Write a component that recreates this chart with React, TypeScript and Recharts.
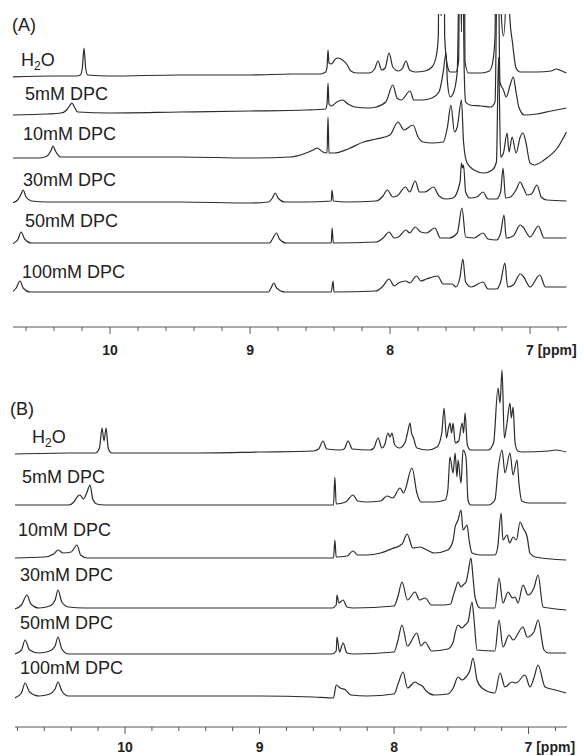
import { LineChart, Line, XAxis, YAxis } from 'recharts'

type Pt = [number, number]

// ppm ticks, every 0.2 ppm; whole numbers get a label
const TICKS_A = [10.6, 10.4, 10.2, 10, 9.8, 9.6, 9.4, 9.2, 9, 8.8, 8.6, 8.4, 8.2, 8, 7.8, 7.6, 7.4, 7.2, 7, 6.8]
const TICKS_B = [10.8, 10.6, 10.4, 10.2, 10, 9.8, 9.6, 9.4, 9.2, 9, 8.8, 8.6, 8.4, 8.2, 8, 7.8, 7.6, 7.4, 7.2, 7, 6.8]

const SAMPLES = ['H2O', '5mM DPC', '10mM DPC', '30mM DPC', '50mM DPC', '100mM DPC']

// panel A spectra: [ppm, intensity above own baseline]
const A_H2O: Pt[] = [[10.70,-1],[10.40,0],[10.24,0],[10.212,1],[10.198,8],[10.186,28],[10.174,8],[10.16,1],[10.0,0],[9.5,1],[9.0,1],[8.7,2],[8.5,2],[8.46,4],[8.45,9],[8.443,26],[8.436,13],[8.42,12],[8.39,17],[8.37,18],[8.34,16],[8.31,12],[8.28,5],[8.24,3],[8.15,3],[8.11,7],[8.086,15],[8.06,6],[8.035,8],[8.007,23],[7.98,9],[7.94,5],[7.91,8],[7.886,15],[7.86,6],[7.82,4],[7.75,5],[7.70,9],[7.67,20],[7.655,40],[7.645,400],[7.635,60],[7.625,400],[7.61,40],[7.59,10],[7.57,4],[7.53,4],[7.51,15],[7.495,400],[7.487,110],[7.478,400],[7.465,15],[7.44,3],[7.35,3],[7.29,5],[7.265,15],[7.25,40],[7.236,400],[7.228,120],[7.221,400],[7.205,60],[7.19,40],[7.172,80],[7.157,400],[7.145,60],[7.125,33],[7.10,8],[7.07,4],[6.95,4],[6.85,5],[6.81,7],[6.79,6],[6.74,3]]
const A_5MM: Pt[] = [[10.70,-3],[10.45,-2],[10.35,-1],[10.31,2],[10.29,6],[10.271,9],[10.255,5],[10.23,0],[10.0,-1],[9.5,0],[9.0,1],[8.6,2],[8.46,3],[8.45,8],[8.443,29],[8.436,8],[8.42,6],[8.38,10],[8.34,12],[8.30,8],[8.25,5],[8.15,4],[8.10,5],[8.03,10],[7.98,27],[7.95,14],[7.92,12],[7.857,21],[7.83,12],[7.77,12],[7.70,14],[7.65,20],[7.62,40],[7.60,59],[7.59,30],[7.57,15],[7.55,18],[7.52,40],[7.50,200],[7.49,80],[7.483,200],[7.47,40],[7.46,10],[7.43,7],[7.35,6],[7.28,5],[7.25,10],[7.23,200],[7.215,30],[7.19,22],[7.17,15],[7.14,28],[7.12,35],[7.10,20],[7.08,5],[7.04,-3],[6.95,-2],[6.85,1],[6.74,4]]
const A_10MM: Pt[] = [[10.70,-1],[10.50,-1],[10.45,1],[10.42,7],[10.407,11],[10.39,6],[10.35,0],[10.0,0],[9.5,0],[9.0,-1],[8.71,0],[8.6,4],[8.55,7],[8.521,9],[8.48,5],[8.45,4],[8.443,40],[8.436,4],[8.40,4],[8.30,8],[8.19,15],[8.10,18],[8.0,22],[7.943,35],[7.90,27],[7.836,32],[7.80,20],[7.764,15],[7.70,14],[7.62,15],[7.59,30],[7.565,52],[7.54,25],[7.52,30],[7.49,57],[7.475,15],[7.45,-6],[7.40,-13],[7.33,-16],[7.27,-13],[7.24,-5],[7.225,100],[7.21,0],[7.19,4],[7.164,24],[7.15,5],[7.128,20],[7.10,4],[7.07,20],[7.05,24],[7.03,15],[7.0,-6],[6.97,-8],[6.90,-3],[6.80,10],[6.74,25]]
const A_30MM: Pt[] = [[10.70,-1],[10.66,2],[10.635,8],[10.62,12],[10.60,5],[10.56,1],[10.45,0],[10.0,0],[9.5,0],[9.0,-1],[8.87,0],[8.84,4],[8.82,9],[8.80,4],[8.75,0],[8.6,0],[8.42,1],[8.414,12],[8.405,1],[8.3,0],[8.1,1],[8.05,6],[8.02,12],[7.98,5],[7.95,6],[7.89,15],[7.86,10],[7.82,21],[7.79,10],[7.75,10],[7.69,15],[7.65,6],[7.60,3],[7.55,4],[7.50,20],[7.49,39],[7.482,34],[7.475,37],[7.46,10],[7.43,4],[7.38,5],[7.336,10],[7.30,3],[7.24,3],[7.21,10],[7.193,34],[7.175,4],[7.14,5],[7.10,12],[7.071,20],[7.05,15],[7.02,7],[6.99,8],[6.95,17],[6.92,5],[6.88,2],[6.74,1]]
const A_50MM: Pt[] = [[10.70,-1],[10.66,3],[10.635,11],[10.61,4],[10.56,0],[10.0,0],[9.5,0],[9.0,0],[8.86,0],[8.84,4],[8.81,10],[8.79,4],[8.74,0],[8.42,0],[8.414,15],[8.405,0],[8.1,1],[8.05,5],[8.007,11],[7.97,5],[7.94,6],[7.886,13],[7.86,10],[7.82,16],[7.78,11],[7.74,10],[7.68,15],[7.64,5],[7.58,5],[7.52,10],[7.486,35],[7.46,6],[7.40,5],[7.336,10],[7.30,4],[7.24,3],[7.21,10],[7.186,28],[7.17,5],[7.12,7],[7.07,18],[7.05,16],[7.0,6],[6.94,17],[6.90,5],[6.85,5],[6.74,5]]
const A_100MM: Pt[] = [[10.70,0],[10.67,4],[10.643,11],[10.62,4],[10.57,0],[10.0,0],[9.5,0],[9.0,0],[8.87,0],[8.85,4],[8.83,9],[8.81,4],[8.75,0],[8.42,0],[8.407,11],[8.40,0],[8.1,1],[8.05,6],[8.007,13],[7.97,6],[7.94,9],[7.886,11],[7.86,9],[7.81,16],[7.78,11],[7.74,13],[7.66,16],[7.62,8],[7.557,8],[7.53,5],[7.50,15],[7.48,33],[7.46,10],[7.42,5],[7.336,10],[7.30,3],[7.24,3],[7.21,10],[7.18,29],[7.16,5],[7.12,7],[7.07,18],[7.05,16],[7.0,5],[6.93,17],[6.89,5],[6.85,5],[6.74,5]]

// panel B spectra
const B_H2O: Pt[] = [[10.82,-1],[10.4,0],[10.22,0],[10.19,5],[10.171,25],[10.156,12],[10.141,25],[10.125,5],[10.10,0],[9.5,0],[9.0,1],[8.6,2],[8.56,4],[8.528,12],[8.50,4],[8.40,3],[8.37,4],[8.342,12],[8.31,4],[8.18,3],[8.15,5],[8.119,15],[8.09,5],[8.07,8],[8.045,20],[8.03,16],[8.015,20],[7.995,8],[7.96,5],[7.92,10],[7.90,20],[7.881,30],[7.87,20],[7.855,15],[7.83,5],[7.75,3],[7.68,6],[7.645,20],[7.628,45],[7.61,15],[7.595,25],[7.584,30],[7.572,20],[7.561,30],[7.545,10],[7.52,12],[7.494,30],[7.483,20],[7.472,40],[7.455,8],[7.43,3],[7.30,3],[7.26,10],[7.227,65],[7.212,50],[7.197,83],[7.18,15],[7.16,30],[7.138,50],[7.128,35],[7.115,46],[7.10,10],[7.08,2],[7.05,1],[6.85,2],[6.80,3],[6.72,1]]
const B_5MM: Pt[] = [[10.82,0],[10.42,0],[10.38,3],[10.35,9],[10.335,10],[10.31,6],[10.285,12],[10.26,20],[10.24,6],[10.21,1],[10.15,0],[9.5,0],[9.0,0],[8.6,0],[8.45,0],[8.44,28],[8.43,1],[8.36,3],[8.305,10],[8.27,4],[8.2,3],[8.10,4],[8.052,9],[8.01,7],[7.955,17],[7.93,12],[7.866,37],[7.83,12],[7.80,3],[7.70,3],[7.62,5],[7.60,15],[7.584,48],[7.561,32],[7.546,52],[7.532,28],[7.524,45],[7.502,22],[7.487,55],[7.465,48],[7.45,5],[7.43,0],[7.30,0],[7.25,5],[7.227,35],[7.197,55],[7.175,32],[7.138,52],[7.115,30],[7.086,45],[7.07,20],[7.05,4],[7.0,2],[6.72,2]]
const B_10MM: Pt[] = [[10.82,0],[10.6,1],[10.53,4],[10.498,8],[10.46,5],[10.40,6],[10.357,13],[10.33,3],[10.28,0],[9.5,0],[9.0,0],[8.6,0],[8.45,0],[8.44,18],[8.43,1],[8.35,2],[8.305,7],[8.27,3],[8.20,3],[8.10,5],[8.02,9],[7.94,14],[7.903,24],[7.86,10],[7.807,11],[7.755,8],[7.70,5],[7.60,8],[7.56,18],[7.546,31],[7.524,38],[7.502,48],[7.487,28],[7.457,33],[7.442,18],[7.42,5],[7.36,3],[7.25,3],[7.23,10],[7.204,45],[7.19,18],[7.16,23],[7.14,15],[7.115,21],[7.09,18],[7.063,36],[7.041,30],[7.01,21],[6.99,5],[6.95,1],[6.72,-2]]
const B_30MM: Pt[] = [[10.82,-1],[10.77,3],[10.729,13],[10.70,4],[10.64,0],[10.56,2],[10.52,8],[10.498,18],[10.47,6],[10.42,1],[10.3,0],[9.5,0],[9.0,0],[8.6,0],[8.46,0],[8.43,3],[8.424,13],[8.41,5],[8.379,8],[8.35,1],[8.3,0],[8.0,2],[7.97,12],[7.941,26],[7.90,8],[7.844,16],[7.81,8],[7.77,10],[7.72,3],[7.63,3],[7.58,4],[7.56,12],[7.546,18],[7.524,26],[7.502,21],[7.487,23],[7.465,26],[7.45,35],[7.428,50],[7.413,31],[7.398,11],[7.36,0],[7.25,0],[7.219,30],[7.19,5],[7.152,16],[7.12,10],[7.10,11],[7.078,5],[7.041,23],[7.004,13],[6.96,20],[6.929,33],[6.892,1],[6.85,0],[6.72,-2]]
const B_50MM: Pt[] = [[10.82,0],[10.77,4],[10.743,14],[10.71,4],[10.64,1],[10.56,3],[10.52,8],[10.498,17],[10.47,5],[10.42,0],[9.5,0],[9.0,0],[8.6,0],[8.46,0],[8.43,3],[8.424,17],[8.405,2],[8.379,11],[8.35,1],[8.3,0],[8.0,2],[7.97,14],[7.941,29],[7.90,8],[7.83,21],[7.80,8],[7.77,12],[7.72,3],[7.6,5],[7.56,12],[7.546,21],[7.524,29],[7.494,26],[7.472,29],[7.45,32],[7.42,52],[7.405,34],[7.383,4],[7.25,3],[7.219,34],[7.19,7],[7.145,19],[7.115,14],[7.041,27],[7.01,17],[6.96,22],[6.929,34],[6.885,4],[6.85,1],[6.72,1]]
const B_100MM: Pt[] = [[10.82,-2],[10.77,3],[10.743,13],[10.71,4],[10.64,0],[10.56,2],[10.52,7],[10.498,14],[10.47,5],[10.42,0],[9.5,0],[9.0,0],[8.6,-1],[8.45,-2],[8.43,11],[8.40,8],[8.36,6],[8.32,1],[8.2,0],[8.0,2],[7.97,12],[7.933,24],[7.90,8],[7.844,14],[7.82,12],[7.79,10],[7.76,5],[7.70,1],[7.60,2],[7.56,8],[7.524,19],[7.494,16],[7.465,19],[7.435,26],[7.413,38],[7.383,16],[7.346,8],[7.25,3],[7.212,23],[7.175,9],[7.123,14],[7.093,13],[7.026,21],[6.989,9],[6.96,18],[6.929,31],[6.877,9],[6.80,6],[6.72,3]]

const SPECTRA_A = [A_H2O, A_5MM, A_10MM, A_30MM, A_50MM, A_100MM]
const SPECTRA_B = [B_H2O, B_5MM, B_10MM, B_30MM, B_50MM, B_100MM]

// vertical stacking of the traces
const STACK_A = [251, 215, 170, 125, 84, 35]
const STACK_B = [274, 222, 169, 119, 73, 31]

const LINE = '#2b2b2b'
const AXIS = '#555'
const FONT = '"Liberation Sans", Arial, sans-serif'

const toSeries = (pts: Pt[], off: number) => pts.map(([ppm, v]) => ({ ppm, y: off + v }))

const PpmTick = (props: any) => {
  const { x, y, payload, labelDy } = props
  const v = payload.value
  const major = Math.abs(v - Math.round(v)) < 1e-6
  return (
    <g>
      <line x1={x} x2={x} y1={y} y2={y + (major ? 7 : 4)} stroke={AXIS} strokeWidth={1} />
      {major && (
        <text x={v === 7 ? x - 4 : x} y={y + labelDy} textAnchor={v === 7 ? 'start' : 'middle'}
          fontFamily={FONT} fontWeight="bold" fontSize={14} fill="#222">
          {v === 7 ? '7 [ppm]' : String(v)}
        </text>
      )}
    </g>
  )
}

const Panel = ({ spectra, stack, ticks, domain, height, top, axisH, yMax, left, labelDy }: any) => (
  <LineChart width={584} height={height} margin={{ top, right: 17, bottom: 0, left }}>
    <XAxis type="number" dataKey="ppm" domain={domain} reversed allowDataOverflow ticks={ticks}
      tickLine={false} tickSize={0} tickMargin={0} height={axisH} interval={0}
      axisLine={{ stroke: AXIS, strokeWidth: 1 }} tick={<PpmTick labelDy={labelDy} />} />
    <YAxis hide type="number" domain={[0, yMax]} allowDataOverflow />
    {spectra.map((pts: Pt[], i: number) => (
      <Line key={i} data={toSeries(pts, stack[i])} dataKey="y" type="monotone" stroke={LINE}
        strokeWidth={1.2} dot={false} activeDot={false} isAnimationActive={false} />
    ))}
  </LineChart>
)

// label placement (page px): [x, baseline]
const LABELS_A: Pt[] = [[21, 66], [25, 100], [23, 140], [23, 186], [25, 227], [22, 278]]
const LABELS_B: Pt[] = [[32, 443], [22, 483], [18, 536], [20, 581], [20, 629], [20, 674]]

const SampleLabel = ({ name, x, y }: { name: string; x: number; y: number }) =>
  name === 'H2O' ? (
    <text x={x} y={y} fontFamily={FONT} fontSize={18} fill="#222">
      H<tspan fontSize={12} dy={4}>2</tspan><tspan dy={-4}>O</tspan>
    </text>
  ) : (
    <text x={x} y={y} fontFamily={FONT} fontSize={18} fill="#222">{name}</text>
  )

export default function App() {
  return (
    <div style={{ position: 'absolute', left: 0, top: 0, width: 584, height: 756, background: '#fff' }}>
      <div style={{ position: 'absolute', left: 0, top: 0 }}>
        <Panel spectra={SPECTRA_A} stack={STACK_A} ticks={TICKS_A} domain={[6.736, 10.693]}
          height={365} top={14} axisH={38} yMax={313} left={13} labelDy={28} />
      </div>
      <div style={{ position: 'absolute', left: 0, top: 365 }}>
        <Panel spectra={SPECTRA_B} stack={STACK_B} ticks={TICKS_B} domain={[6.714, 10.818]}
          height={391} top={3} axisH={29} yMax={359} left={15} labelDy={25} />
      </div>
      <svg width={584} height={756} style={{ position: 'absolute', left: 0, top: 0, pointerEvents: 'none' }}>
        <text x={12} y={31} fontFamily={FONT} fontSize={18} fill="#222">(A)</text>
        <text x={10} y={415} fontFamily={FONT} fontSize={18} fill="#222">(B)</text>
        {SAMPLES.map((s, i) => <SampleLabel key={'a' + i} name={s} x={LABELS_A[i][0]} y={LABELS_A[i][1]} />)}
        {SAMPLES.map((s, i) => <SampleLabel key={'b' + i} name={s} x={LABELS_B[i][0]} y={LABELS_B[i][1]} />)}
      </svg>
    </div>
  )
}
